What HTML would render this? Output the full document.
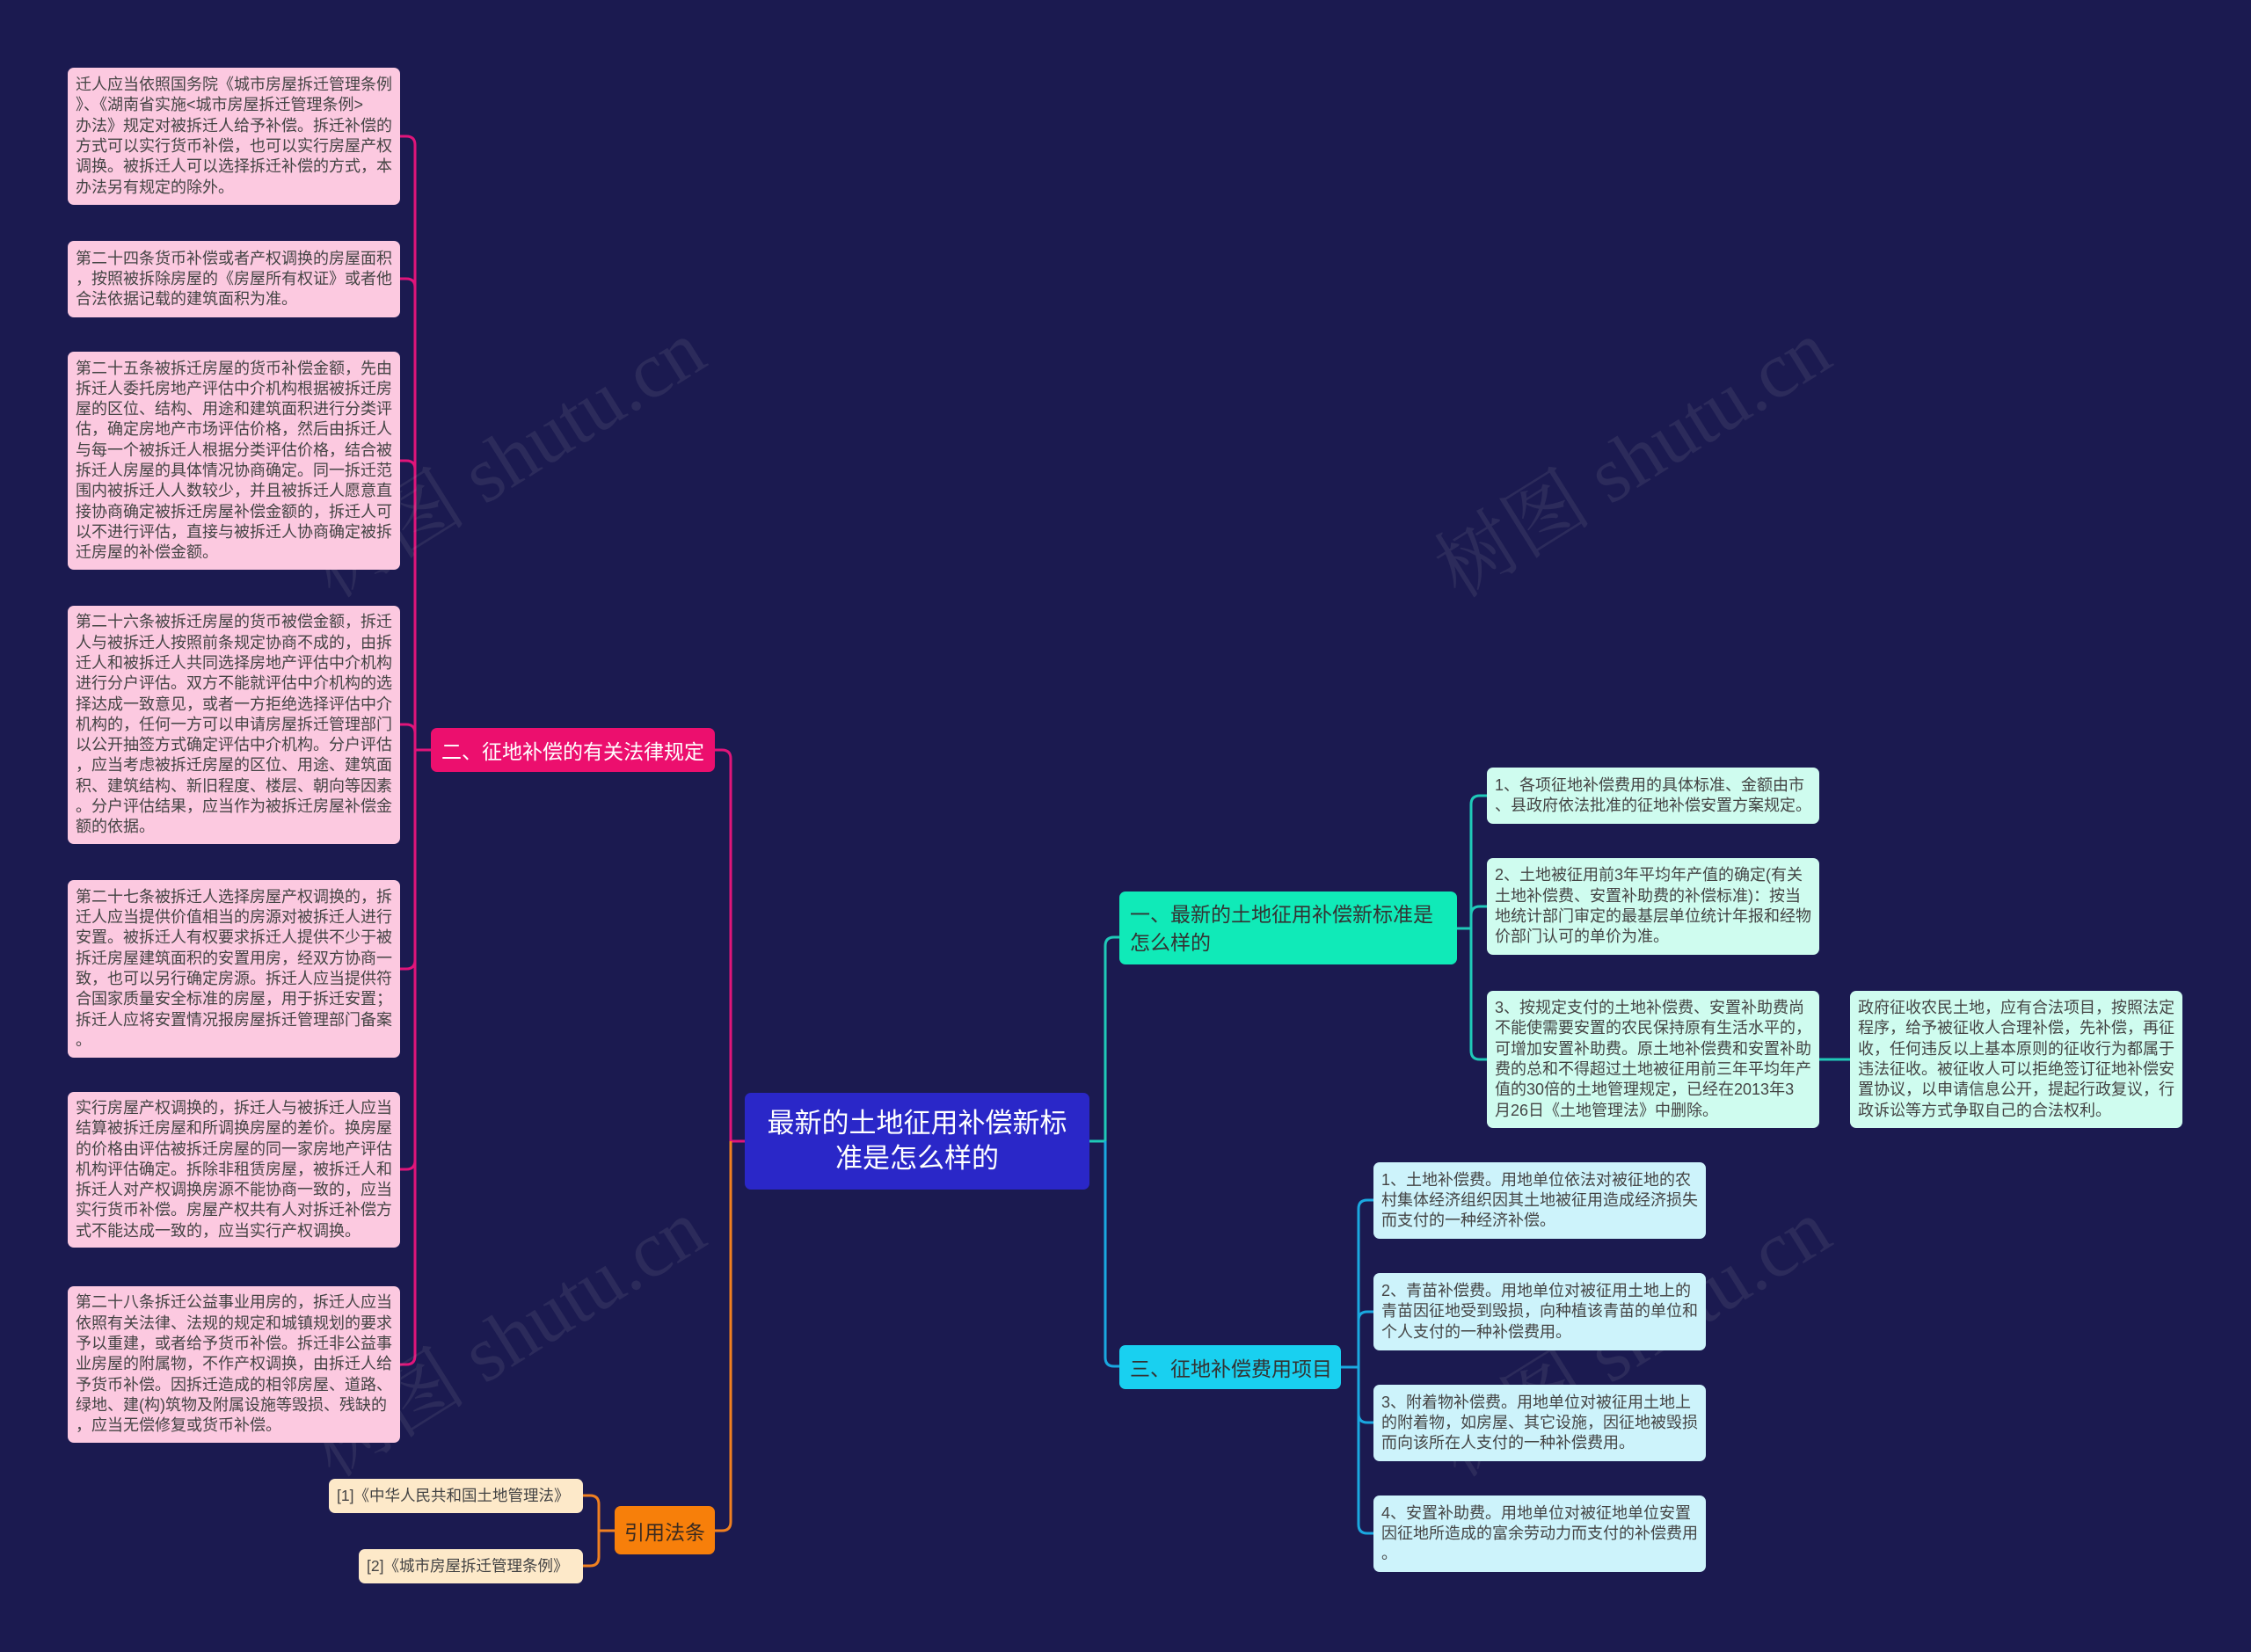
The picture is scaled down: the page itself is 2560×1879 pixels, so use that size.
<!DOCTYPE html>
<html><head><meta charset="utf-8">
<style>
html,body{margin:0;padding:0}
body{width:2560px;height:1879px;background:#1b1a50;position:relative;overflow:hidden;font-family:"Liberation Sans","Noto Sans CJK SC",sans-serif}
.b{position:absolute;box-sizing:border-box;border-radius:7px;display:flex;align-items:center;white-space:nowrap;font-size:18px;line-height:23.3px;padding:0 9px;color:#444}
.pk{background:#fcc9e0;left:77px;width:378px}
.mt{background:#cffcef;width:378px}
.cy{background:#cdf3fb;left:1562px;width:378px}
.n{position:absolute;box-sizing:border-box;border-radius:7px;display:flex;align-items:center;white-space:nowrap}
svg{position:absolute;left:0;top:0}
.wm{position:absolute;color:rgba(160,160,170,0.13);font-size:90px;font-family:"Liberation Serif","Noto Serif CJK SC",serif;transform:rotate(-32deg);white-space:nowrap}
</style></head><body>

<svg width="2560" height="1879" fill="none" stroke-width="3">
<g stroke="#e0157a">
<path d="M490,853 H472"/>
<path d="M472,853 V165 Q472,155 462,155 H455"/>
<path d="M472,853 V327 Q472,317 462,317 H455"/>
<path d="M472,853 V534 Q472,524 462,524 H455"/>
<path d="M472,853 V834 Q472,824 462,824 H455"/>
<path d="M472,853 V1092 Q472,1102 462,1102 H455"/>
<path d="M472,853 V1320 Q472,1330 462,1330 H455"/>
<path d="M472,853 V1542 Q472,1552 462,1552 H455"/>
<path d="M847,1298 H831 V863 Q831,853 821,853 H813"/>
</g>
<g stroke="#f08020">
<path d="M831,1298 V1731 Q831,1741 821,1741 H813"/>
<path d="M699,1741 H681"/>
<path d="M681,1741 V1711 Q681,1701 671,1701 H663"/>
<path d="M681,1741 V1771 Q681,1781 671,1781 H663"/>
</g>
<g stroke="#1fc9b8">
<path d="M1239,1298 H1257 V1076 Q1257,1066 1267,1066 H1273"/>
<path d="M1657,1056 H1673"/>
<path d="M1673,1056 V915 Q1673,905 1683,905 H1691"/>
<path d="M1673,1056 V1041 Q1673,1031 1683,1031 H1691"/>
<path d="M1673,1056 V1195 Q1673,1205 1683,1205 H1691"/>
<path d="M2069,1205 H2104"/>
</g>
<g stroke="#1aa8e0">
<path d="M1257,1298 V1544 Q1257,1554 1267,1554 H1273"/>
<path d="M1525,1555 H1545"/>
<path d="M1545,1555 V1375 Q1545,1365 1555,1365 H1562"/>
<path d="M1545,1555 V1502 Q1545,1492 1555,1492 H1562"/>
<path d="M1545,1555 V1608 Q1545,1618 1555,1618 H1562"/>
<path d="M1545,1555 V1734 Q1545,1744 1555,1744 H1562"/>
</g>
</svg>

<div class="wm" style="left:320px;top:450px">树图 shutu.cn</div>
<div class="wm" style="left:1600px;top:450px">树图 shutu.cn</div>
<div class="wm" style="left:320px;top:1450px">树图 shutu.cn</div>
<div class="wm" style="left:1600px;top:1450px">树图 shutu.cn</div>

<div class="b pk" style="top:77px;height:156px">迁人应当依照国务院《城市房屋拆迁管理条例<br>》、《湖南省实施&lt;城市房屋拆迁管理条例&gt;<br>办法》规定对被拆迁人给予补偿。拆迁补偿的<br>方式可以实行货币补偿，也可以实行房屋产权<br>调换。被拆迁人可以选择拆迁补偿的方式，本<br>办法另有规定的除外。</div>
<div class="b pk" style="top:274px;height:87px">第二十四条货币补偿或者产权调换的房屋面积<br>，按照被拆除房屋的《房屋所有权证》或者他<br>合法依据记载的建筑面积为准。</div>
<div class="b pk" style="top:400px;height:248px">第二十五条被拆迁房屋的货币补偿金额，先由<br>拆迁人委托房地产评估中介机构根据被拆迁房<br>屋的区位、结构、用途和建筑面积进行分类评<br>估，确定房地产市场评估价格，然后由拆迁人<br>与每一个被拆迁人根据分类评估价格，结合被<br>拆迁人房屋的具体情况协商确定。同一拆迁范<br>围内被拆迁人人数较少，并且被拆迁人愿意直<br>接协商确定被拆迁房屋补偿金额的，拆迁人可<br>以不进行评估，直接与被拆迁人协商确定被拆<br>迁房屋的补偿金额。</div>
<div class="b pk" style="top:689px;height:271px">第二十六条被拆迁房屋的货币被偿金额，拆迁<br>人与被拆迁人按照前条规定协商不成的，由拆<br>迁人和被拆迁人共同选择房地产评估中介机构<br>进行分户评估。双方不能就评估中介机构的选<br>择达成一致意见，或者一方拒绝选择评估中介<br>机构的，任何一方可以申请房屋拆迁管理部门<br>以公开抽签方式确定评估中介机构。分户评估<br>，应当考虑被拆迁房屋的区位、用途、建筑面<br>积、建筑结构、新旧程度、楼层、朝向等因素<br>。分户评估结果，应当作为被拆迁房屋补偿金<br>额的依据。</div>
<div class="b pk" style="top:1001px;height:202px">第二十七条被拆迁人选择房屋产权调换的，拆<br>迁人应当提供价值相当的房源对被拆迁人进行<br>安置。被拆迁人有权要求拆迁人提供不少于被<br>拆迁房屋建筑面积的安置用房，经双方协商一<br>致，也可以另行确定房源。拆迁人应当提供符<br>合国家质量安全标准的房屋，用于拆迁安置；<br>拆迁人应将安置情况报房屋拆迁管理部门备案<br>。</div>
<div class="b pk" style="top:1242px;height:177px">实行房屋产权调换的，拆迁人与被拆迁人应当<br>结算被拆迁房屋和所调换房屋的差价。换房屋<br>的价格由评估被拆迁房屋的同一家房地产评估<br>机构评估确定。拆除非租赁房屋，被拆迁人和<br>拆迁人对产权调换房源不能协商一致的，应当<br>实行货币补偿。房屋产权共有人对拆迁补偿方<br>式不能达成一致的，应当实行产权调换。</div>
<div class="b pk" style="top:1463px;height:178px">第二十八条拆迁公益事业用房的，拆迁人应当<br>依照有关法律、法规的规定和城镇规划的要求<br>予以重建，或者给予货币补偿。拆迁非公益事<br>业房屋的附属物，不作产权调换，由拆迁人给<br>予货币补偿。因拆迁造成的相邻房屋、道路、<br>绿地、建(构)筑物及附属设施等毁损、残缺的<br>，应当无偿修复或货币补偿。</div>

<div class="n" style="left:490px;top:828px;width:323px;height:50px;background:#ec0f6e;color:#fff;font-size:23px;padding-left:12px">二、征地补偿的有关法律规定</div>

<div class="n" style="left:847px;top:1243px;width:392px;height:110px;background:#2a27c8;color:#fff;font-size:31px;line-height:40px;justify-content:center;text-align:center">最新的土地征用补偿新标<br>准是怎么样的</div>

<div class="n" style="left:699px;top:1713px;width:114px;height:55px;background:#f77f0a;color:#3a2a20;font-size:23px;justify-content:center">引用法条</div>
<div class="b" style="left:374px;top:1682px;width:289px;height:39px;background:#fde9c9;font-size:17.5px">[1]《中华人民共和国土地管理法》</div>
<div class="b" style="left:408px;top:1762px;width:255px;height:39px;background:#fde9c9;font-size:17.5px">[2]《城市房屋拆迁管理条例》</div>

<div class="n" style="left:1273px;top:1014px;width:384px;height:83px;background:#10eab8;color:#333;font-size:23px;line-height:32px;padding-left:12px">一、最新的土地征用补偿新标准是<br>怎么样的</div>
<div class="b mt" style="left:1691px;top:873px;height:64px">1、各项征地补偿费用的具体标准、金额由市<br>、县政府依法批准的征地补偿安置方案规定。</div>
<div class="b mt" style="left:1691px;top:976px;height:110px">2、土地被征用前3年平均年产值的确定(有关<br>土地补偿费、安置补助费的补偿标准)：按当<br>地统计部门审定的最基层单位统计年报和经物<br>价部门认可的单价为准。</div>
<div class="b mt" style="left:1691px;top:1127px;height:156px">3、按规定支付的土地补偿费、安置补助费尚<br>不能使需要安置的农民保持原有生活水平的，<br>可增加安置补助费。原土地补偿费和安置补助<br>费的总和不得超过土地被征用前三年平均年产<br>值的30倍的土地管理规定，已经在2013年3<br>月26日《土地管理法》中删除。</div>
<div class="b mt" style="left:2104px;top:1127px;height:156px">政府征收农民土地，应有合法项目，按照法定<br>程序，给予被征收人合理补偿，先补偿，再征<br>收，任何违反以上基本原则的征收行为都属于<br>违法征收。被征收人可以拒绝签订征地补偿安<br>置协议，以申请信息公开，提起行政复议，行<br>政诉讼等方式争取自己的合法权利。</div>

<div class="n" style="left:1273px;top:1530px;width:252px;height:50px;background:#19d0f0;color:#333;font-size:23px;padding-left:12px">三、征地补偿费用项目</div>
<div class="b cy" style="top:1322px;height:87px">1、土地补偿费。用地单位依法对被征地的农<br>村集体经济组织因其土地被征用造成经济损失<br>而支付的一种经济补偿。</div>
<div class="b cy" style="top:1448px;height:88px">2、青苗补偿费。用地单位对被征用土地上的<br>青苗因征地受到毁损，向种植该青苗的单位和<br>个人支付的一种补偿费用。</div>
<div class="b cy" style="top:1575px;height:87px">3、附着物补偿费。用地单位对被征用土地上<br>的附着物，如房屋、其它设施，因征地被毁损<br>而向该所在人支付的一种补偿费用。</div>
<div class="b cy" style="top:1701px;height:87px">4、安置补助费。用地单位对被征地单位安置<br>因征地所造成的富余劳动力而支付的补偿费用<br>。</div>

</body></html>
